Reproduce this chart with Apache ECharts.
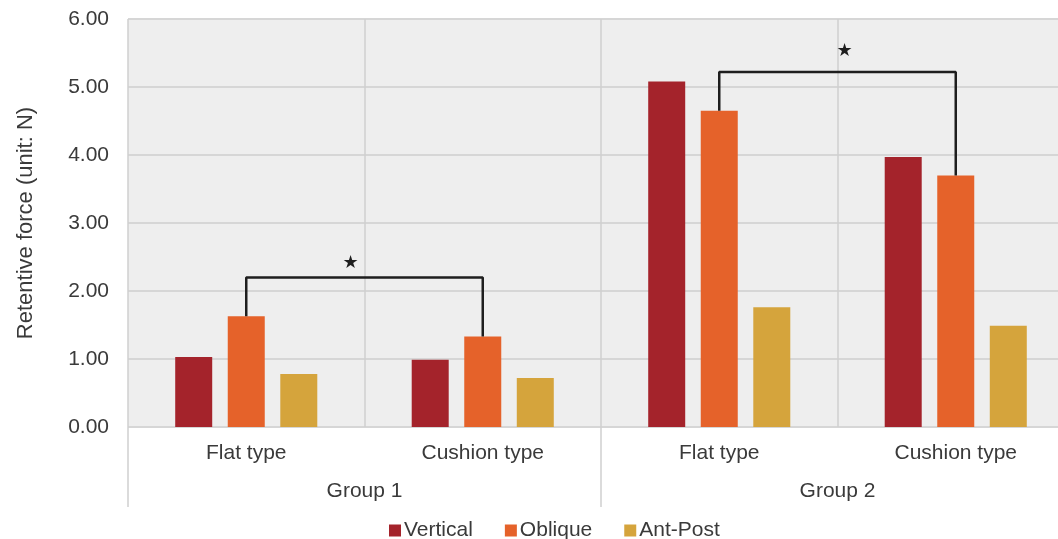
<!DOCTYPE html>
<html><head><meta charset="utf-8">
<script src="https://cdn.jsdelivr.net/npm/echarts@6/dist/echarts.min.js"></script>
<style>html,body{margin:0;padding:0;background:#fff}#c{width:1058px;height:539px}</style>
</head><body><div id="c"></div>
<script>
const categories = ['Flat type', 'Cushion type', 'Flat type', 'Cushion type'];
const groups = ['Group 1', 'Group 2'];
const seriesNames = ['Vertical', 'Oblique', 'Ant-Post'];
const vertical = [1.03, 0.99, 5.08, 3.97];
const oblique = [1.63, 1.33, 4.65, 3.70];
const antPost = [0.78, 0.72, 1.76, 1.49];
// significance brackets: [fromCategory, toCategory, fromValue, bracketTop, toValue]
const brackets = [[0, 1, 1.63, 2.2, 1.33], [2, 3, 4.65, 5.22, 3.70]];
const starLevels = [2.41, 5.53];

const colors = ['#a4232b', '#e5622a', '#d5a43c'];
const font = 'Liberation Sans, Arial, sans-serif';
const textColor = '#3a3a3a';

const chart = echarts.init(document.getElementById('c'));

const bracketData = [];
brackets.forEach((b, i) => {
  if (i > 0) bracketData.push([b[0], '-']);
  bracketData.push([b[0], b[2]], [b[0], b[3]], [b[1], b[3]], [b[1], b[4]]);
});

const barSeries = [vertical, oblique, antPost].map((d, i) => ({
  name: seriesNames[i], type: 'bar', data: d, barWidth: 37, barGap: '42%',
  itemStyle: { color: colors[i] }, silent: true
}));

chart.setOption({
  animation: false,
  textStyle: { fontFamily: font },
  grid: { left: 128, top: 19, width: 946, height: 408, outerBoundsMode: 'none', containLabel: false,
          show: true, backgroundColor: '#eeeeee', borderWidth: 0 },
  legend: {
    data: seriesNames, left: 384, top: 515, icon: 'rect', itemWidth: 12, itemHeight: 12, itemGap: 32,
    textStyle: { fontSize: 21, color: textColor, fontFamily: font, padding: [0, 0, 0, -2] }
  },
  xAxis: [
    { type: 'category', data: categories, position: 'bottom',
      axisLine: { show: false }, axisTick: { show: false },
      splitLine: { show: true, lineStyle: { color: '#cfcfcf', width: 1.5 } },
      axisLabel: { margin: 16, fontSize: 21, color: textColor, fontFamily: font } },
    { type: 'category', data: groups, position: 'bottom',
      axisLine: { show: false },
      axisTick: { show: true, length: 80, alignWithLabel: false, lineStyle: { color: '#cfcfcf', width: 1.5 } },
      axisLabel: { margin: 54, fontSize: 21, color: textColor, fontFamily: font } }
  ],
  yAxis: {
    type: 'value', min: 0, max: 6, interval: 1,
    name: 'Retentive force (unit: N)', nameLocation: 'middle', nameGap: 91,
    nameTextStyle: { fontSize: 22, color: textColor, fontFamily: font },
    axisLine: { show: false }, axisTick: { show: false },
    splitLine: { lineStyle: { color: '#d6d6d6', width: 2 } },
    axisLabel: { margin: 19, fontSize: 21, color: textColor, fontFamily: font, formatter: v => v.toFixed(2) }
  },
  series: barSeries.concat([{
    name: 'bracket', type: 'line', data: bracketData, symbol: 'none', silent: true,
    connectNulls: false, lineStyle: { color: '#1e1e1e', width: 2.5 }, z: 5
  }])
});

const graphics = brackets.map((b, i) => {
  const a = chart.convertToPixel({ seriesIndex: 3 }, [b[0], starLevels[i]]);
  const c = chart.convertToPixel({ seriesIndex: 3 }, [b[1], starLevels[i]]);
  return {
    type: 'text', x: (a[0] + c[0]) / 2 + (i === 0 ? -14 : 7), y: a[1], z: 10,
    style: { text: '★', fontSize: 18, fill: '#1e1e1e', align: 'center', verticalAlign: 'middle', fontFamily: 'DejaVu Sans' }
  };
});
chart.setOption({ graphic: graphics });
</script>
</body></html>
